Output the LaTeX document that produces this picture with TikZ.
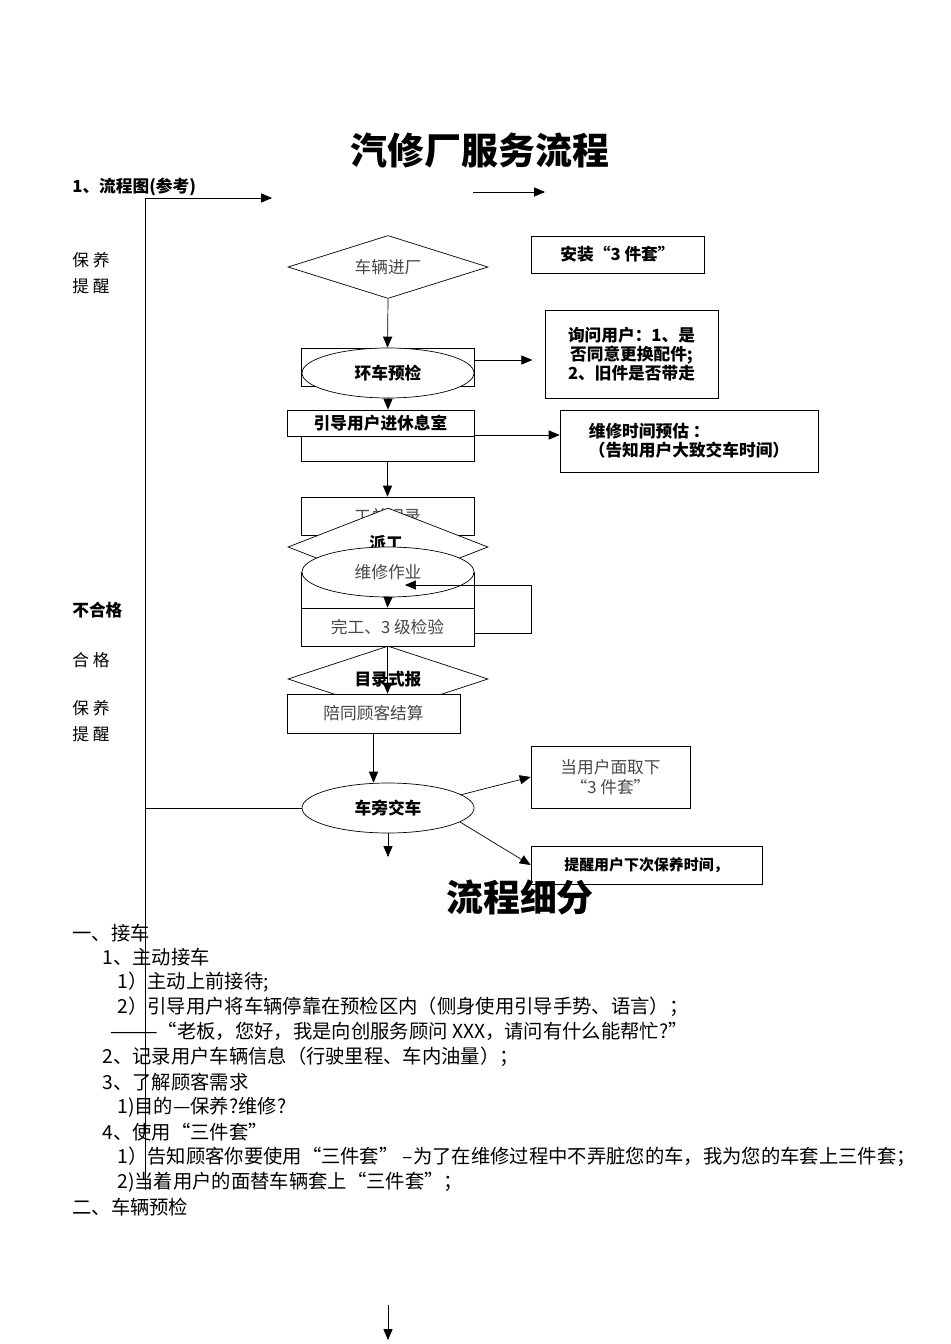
\documentclass[tikz,border=0pt]{standalone}
\usepackage{fontspec}
\setmainfont{Noto Sans CJK SC}
\usetikzlibrary{shapes.geometric,arrows}
\begin{document}
\begin{tikzpicture}[x=0.02cm,y=-0.02cm,
	% box and shape styles
	box/.style={rectangle,draw,inner sep=0pt,font=\fontsize{9.5}{11}\selectfont},
	dia/.style={diamond,draw,inner sep=0pt,aspect=3.2,minimum width=4cm,minimum height=1.26cm,font=\fontsize{9.5}{11}\selectfont},
	oval/.style={ellipse,draw,fill=white,inner sep=0pt,minimum width=3.44cm,minimum height=1cm,font=\fontsize{9.5}{11}\selectfont},
	txt/.style={anchor=west,inner sep=0pt,font=\fontsize{9.5}{11}\selectfont},
	det/.style={anchor=west,inner sep=0pt,font=\fontsize{11}{13}\selectfont},
	gray/.style={text=black!72},
	>=triangle 45
	]
	\useasboundingbox (0,0) rectangle (950,1344);
	%% Titles
	\node (title) at (480,150) {\fontsize{21}{24}\selectfont\bfseries 汽修厂服务流程};
	\node (head) [txt,font=\fontsize{9.5}{11}\selectfont\bfseries] at (72,187) {1、流程图(参考)};
	\node (t1) [txt] at (72,260) {保\ 养};
	\node (t2) [txt] at (72,286) {提\ 醒};
	\node (t3) [txt,font=\fontsize{9.5}{11}\selectfont\bfseries] at (72,610) {不合格};
	\node (t4) [txt] at (72,660) {合\ 格};
	\node (t5) [txt] at (72,708) {保\ 养};
	\node (t6) [txt] at (72,734) {提\ 醒};
	%% Left line
	\coordinate (l0) at (145,198);
	\coordinate (l1) at (145,1190);
	\coordinate (l2) at (272,198);
	\coordinate (l3) at (145,808);
	\draw (l1) -- (l0);
	\draw [->] (l0) -- (l2);
	\coordinate (a0) at (473,192);
	\coordinate (a1) at (545,192);
	\draw [->] (a0) -- (a1);
	%% Flow
	\node (in) [dia,gray] at (388,267) {车辆进厂};
	\node (kit) [box,minimum width=3.46cm,minimum height=0.74cm,font=\fontsize{9.5}{11}\selectfont\bfseries] at (617.5,254.5) {安装“3 件套”};
	\node (chkbox) [box,minimum width=3.46cm,minimum height=0.76cm] at (387.5,367) {};
	\node (chk) [oval,font=\fontsize{9.5}{11}\selectfont\bfseries] at (388,373) {环车预检};
	\node (ask) [box,minimum width=3.46cm,minimum height=1.76cm,align=center,font=\fontsize{9.5}{11}\selectfont\bfseries] at (631.5,354) {询问用户：1、是\\ 否同意更换配件;\\2、旧件是否带走};
	\node (restb) [box,minimum width=3.46cm,minimum height=0.5cm] at (387.5,448.5) {};
	\node (rest) [box,fill=white,minimum width=3.74cm,minimum height=0.52cm,font=\fontsize{9.5}{11}\selectfont\bfseries] at (380.5,423) {引导用户进休息室};
	\node (time) [box,minimum width=5.16cm,minimum height=1.24cm,align=left,font=\fontsize{9.5}{11}\selectfont\bfseries] at (689,441) {维修时间预估 ：\\ （告知用户大致交车时间）};
	\node (rec) [box,gray,minimum width=3.46cm,minimum height=0.76cm] at (387.5,516) {工单记录};
	\node (disp) [dia,fill=white,minimum height=1.56cm,font=\fontsize{9.5}{11}\selectfont\bfseries] at (388,547) {};
	\node (dispt) [inner sep=0pt,font=\fontsize{9.5}{11}\selectfont\bfseries] at (386,543) {派工};
	\node (workb) [box,minimum width=3.46cm,minimum height=0.72cm] at (387.5,590) {};
	\node (work) [oval,gray] at (388,572) {维修作业};
	\node (qc) [box,fill=white,minimum width=3.46cm,minimum height=0.76cm,gray] at (387.5,627) {完工、3 级检验};
	\node (rep) [dia,minimum height=1.32cm,font=\fontsize{9.5}{11}\selectfont\bfseries] at (388,679) {目录式报};
	\node (pay) [box,fill=white,minimum width=3.46cm,minimum height=0.78cm,gray] at (373.5,713.5) {陪同顾客结算};
	\node (hand) [oval,font=\fontsize{9.5}{11}\selectfont\bfseries] at (388,808) {车旁交车};
	\node (off) [box,gray,minimum width=3.18cm,minimum height=1.24cm,align=center] at (610.5,777) {当用户面取下\\“3 件套”};
	\node (remind) [box,minimum width=4.62cm,minimum height=0.76cm,font=\fontsize{8.5}{10}\selectfont\bfseries] at (646.5,865) {提醒用户下次保养时间，};
	%% Connectors
	\draw [->] (in.south) -- (chkbox.north);
	\draw [->] (chkbox.east) ++(0,-7) coordinate (c1) -- ++(58,0) coordinate (c2);
	\draw [->] (chk.south) -- (rest.north -| chk.south);
	\draw [->] (rest.east) ++(0,12) coordinate (c3) -- (time.west |- c3);
	\draw [->] (restb.south) -- (rec.north);
	\draw [->] (work.south) -- (qc.north);
	\coordinate (f1) at (531,633);
	\coordinate (f2) at (531,585);
	\coordinate (f3) at (405,585);
	\draw [->] (qc.east |- f1) -- (f1) -- (f2) -- (f3);
	\draw [->] (qc.south) -- (pay.north -| qc.south);
	\draw [->] (pay.south) -- (hand.north -| pay.south);
	\draw (l3) -- (hand.west);
	\coordinate (h1) at (460,795);
	\coordinate (h2) at (460,822);
	\draw [->] (h1) -- (off.west);
	\draw [->] (h2) -- (remind.west);
	\coordinate (e1) at (388,857);
	\draw [->] (hand.south) -- (e1);
	%% Details
	\node (title2) at (520,897) {\fontsize{21}{24}\selectfont\bfseries 流程细分};
	\node (d1) [det] at (72,933) {一、接车};
	\node (d2) [det] at (102,957) {1、主动接车};
	\node (d3) [det] at (117,982) {1）主动上前接待;};
	\node (d4) [det] at (117,1007) {2）引导用户将车辆停靠在预检区内（侧身使用引导手势、语言）；};
	\node (d5) [det] at (110,1031) {———“老板，您好，我是向创服务顾问 XXX，请问有什么能帮忙?”};
	\node (d6) [det] at (102,1057) {2、记录用户车辆信息（行驶里程、车内油量）；};
	\node (d7) [det] at (102,1082) {3、了解顾客需求};
	\node (d8) [det] at (117,1107) {1)目的—保养?维修?};
	\node (d9) [det] at (102,1132) {4、使用“三件套”};
	\node (d10) [det] at (117,1157) {1）告知顾客你要使用“三件套” --为了在维修过程中不弄脏您的车，我为您的车套上三件套；};
	\node (d11) [det] at (117,1182) {2)当着用户的面替车辆套上“三件套”；};
	\node (d12) [det] at (72,1207) {二、车辆预检};
	\coordinate (b0) at (388,1305);
	\coordinate (b1) at (388,1340);
	\draw [->] (b0) -- (b1);
\end{tikzpicture}
\end{document}
